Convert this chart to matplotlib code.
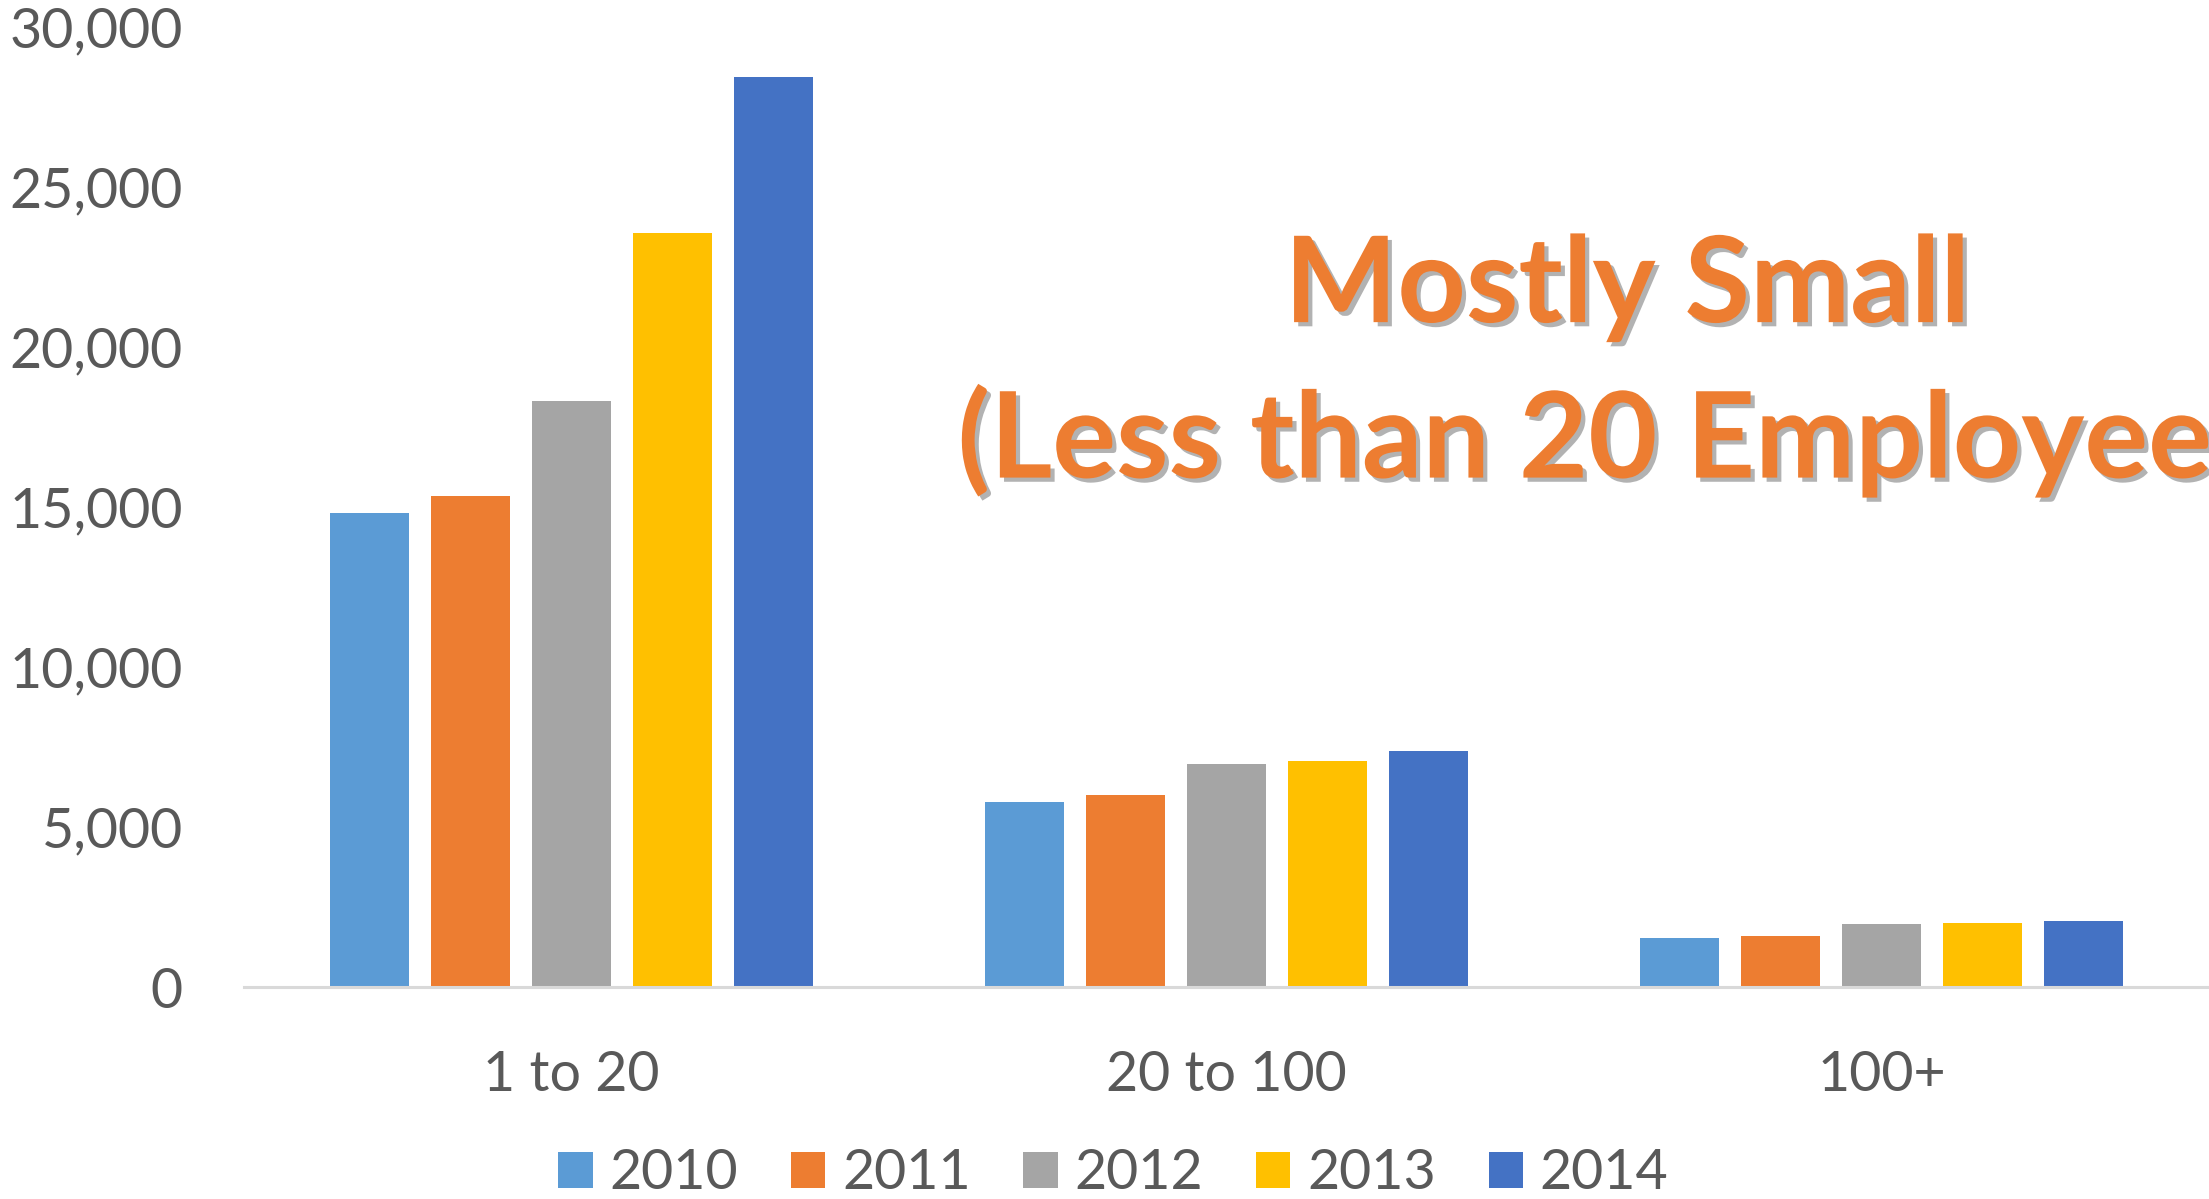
import numpy as np
import matplotlib
matplotlib.use("Agg")
import matplotlib.pyplot as plt
import matplotlib.patheffects as pe
from matplotlib.ticker import FuncFormatter

plt.rcParams["font.family"] = ["Lato", "DejaVu Sans"]

# data
categories = ["1 to 20", "20 to 100", "100+"]
years = ["2010", "2011", "2012", "2013", "2014"]
v2010 = [14800, 5780, 1520]
v2011 = [15350, 6000, 1590]
v2012 = [18300, 6970, 1960]
v2013 = [23550, 7060, 2000]
v2014 = [28450, 7370, 2070]
series = [v2010, v2011, v2012, v2013, v2014]
colors = ["#5B9BD5", "#ED7D31", "#A5A5A5", "#FFC000", "#4472C4"]

fig = plt.figure(figsize=(22.09, 11.99), dpi=100)
ax = fig.add_axes([0.1105, 0.1768, 0.8895, 0.8007])

x = np.arange(len(categories))
step = 0.154
width = 0.121
for i, (vals, col) in enumerate(zip(series, colors)):
    ax.bar(x + (i - 2) * step, vals, width, color=col, label=years[i], zorder=2)

ax.set_xlim(-0.5, 2.5)
ax.set_ylim(0, 30000)
ax.set_yticks(np.arange(0, 30001, 5000))
ax.yaxis.set_major_formatter(FuncFormatter(lambda v, p: f"{int(v):,}"))
ax.set_xticks(x)
ax.set_xticklabels(categories)

for s in ["top", "right", "left"]:
    ax.spines[s].set_visible(False)
ax.spines["bottom"].set_color("#D9D9D9")
ax.spines["bottom"].set_linewidth(2.2)
ax.tick_params(axis="both", length=0, labelsize=40, labelcolor="#595959")
ax.tick_params(axis="y", pad=44)
ax.tick_params(axis="x", pad=45)

# annotation with shadow (second line runs off the right edge like the original)
ax.text(0.704, 0.647, "Mostly Small\n(Less than 20 Employees)", transform=ax.transAxes,
        ha="center", va="center", fontsize=86, fontweight="bold", color="#ED7D31",
        linespacing=1.45,
        path_effects=[pe.withSimplePatchShadow(offset=(3, -3), shadow_rgbFace="#7F7F7F", alpha=0.6)])

fig.legend(loc="center", bbox_to_anchor=(0.504, 0.021), ncol=5, frameon=False,
           fontsize=40, labelcolor="#595959", handlelength=0.62, handleheight=0.62,
           handletextpad=0.3, columnspacing=0.95, borderpad=0)

fig.savefig("out.png", dpi=100)
